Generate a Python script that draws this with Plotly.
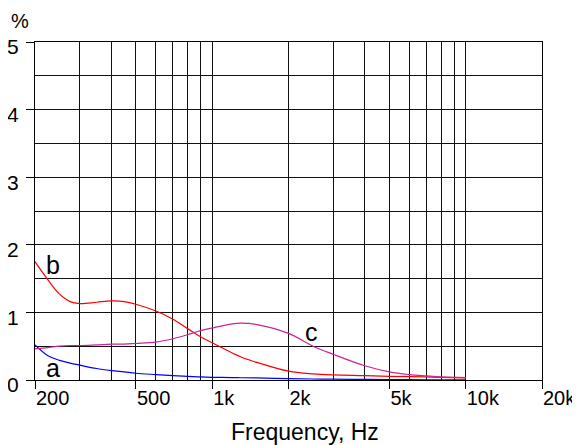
import math
import plotly.graph_objects as go

freq = [200, 225, 250, 275, 300, 350, 400, 450, 500, 600, 700, 800, 900, 1000,
        1200, 1300, 1500, 2000, 2500, 3000, 4000, 5000, 6000, 7000, 8000, 10000]
curve_a = [0.52, 0.36, 0.29, 0.25, 0.22, 0.17, 0.14, 0.12, 0.10, 0.08, 0.065, 0.055, 0.045, 0.04,
           0.035, 0.033, 0.03, 0.02, 0.015, 0.012, 0.008, 0.006, 0.005, 0.004, 0.003, 0.002]
curve_b = [1.75, 1.48, 1.27, 1.16, 1.13, 1.15, 1.17, 1.16, 1.12, 1.02, 0.90, 0.76, 0.64, 0.55,
           0.40, 0.34, 0.26, 0.13, 0.09, 0.075, 0.065, 0.055, 0.05, 0.045, 0.04, 0.03]
curve_c = [0.46, 0.48, 0.50, 0.51, 0.51, 0.52, 0.53, 0.53, 0.54, 0.56, 0.61, 0.67, 0.73, 0.77,
           0.83, 0.84, 0.82, 0.69, 0.50, 0.38, 0.21, 0.12, 0.08, 0.06, 0.045, 0.035]

major_x = [200, 500, 1000, 2000, 5000, 10000, 20000]
major_x_text = ["200", "500", "1k", "2k", "5k", "10k", "20k"]
minor_x = [300, 400, 600, 700, 800, 900, 3000, 4000, 6000, 7000, 8000, 9000]
y_ticks = [0, 1, 2, 3, 4, 5]

labels = ["b", "a", "c"]
label_x = [235, 235, 2470]
label_y = [1.70, 0.18, 0.71]

FONT = "Arial, Liberation Sans, sans-serif"

fig = go.Figure()
fig.add_trace(go.Scatter(x=freq, y=curve_a, mode="lines", line=dict(color="#0000ff", width=1.2, shape="spline")))
fig.add_trace(go.Scatter(x=freq, y=curve_b, mode="lines", line=dict(color="#ff0000", width=1.2, shape="spline")))
fig.add_trace(go.Scatter(x=freq, y=curve_c, mode="lines", line=dict(color="#cc2299", width=1.2, shape="spline")))

for t, xx, yy in zip(labels, label_x, label_y):
    fig.add_annotation(x=math.log10(xx), y=yy, text=t, showarrow=False,
                       font=dict(family=FONT, size=25, color="black"))

# unit label and axis title
fig.add_annotation(xref="paper", yref="paper", x=0, y=1, xanchor="center", yanchor="middle",
                   xshift=-15, yshift=21, text="%", showarrow=False,
                   font=dict(family=FONT, size=20, color="black"))
fig.add_annotation(xref="paper", yref="paper", x=0.5335, y=0, xanchor="center", yanchor="middle",
                   yshift=-52, text="Frequency, Hz", showarrow=False,
                   font=dict(family=FONT, size=23, color="black"))

# page body has an 8px margin, so the figure is sized/offset to land plot area at the right pixels
fig.update_layout(
    width=572, height=437,
    margin=dict(l=27, r=38, t=34, b=65, autoexpand=False),
    paper_bgcolor="white", plot_bgcolor="white",
    showlegend=False,
    font=dict(family=FONT, size=19, color="black"),
    xaxis=dict(
        type="log", range=[math.log10(200), math.log10(20000)],
        tickmode="array", tickvals=major_x, ticktext=major_x_text,
        ticks="outside", ticklen=8, tickcolor="black", tickwidth=1,
        ticklabelposition="outside right",
        showgrid=True, gridcolor="#111", gridwidth=1,
        minor=dict(tickmode="array", tickvals=minor_x, showgrid=True, gridcolor="#111", gridwidth=1, ticks=""),
        showline=True, linecolor="black", linewidth=1, mirror=True,
        zeroline=False, automargin=False,
        tickfont=dict(size=20),
    ),
    yaxis=dict(
        range=[0, 5], tickmode="array", tickvals=y_ticks,
        ticks="outside", ticklen=8, tickcolor="black", tickwidth=1,
        showgrid=True, gridcolor="#111", gridwidth=1,
        minor=dict(dtick=0.5, showgrid=True, gridcolor="#111", gridwidth=1, ticks=""),
        showline=True, linecolor="black", linewidth=1, mirror=True,
        zeroline=False, automargin=False, ticklabelshift=5, ticklabelstandoff=3,
        tickfont=dict(size=21),
    ),
)

fig.write_html("out.html")
